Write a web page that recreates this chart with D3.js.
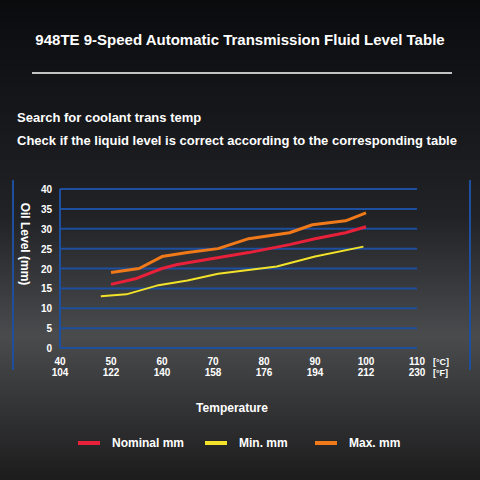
<!DOCTYPE html>
<html><head><meta charset="utf-8">
<script src="https://cdn.jsdelivr.net/npm/d3@7"></script>
<style>body{margin:0;background:#000}svg{display:block;font-family:"Liberation Sans",Arial,sans-serif}</style>
</head><body><svg id="c" width="480" height="480"></svg>
<script>
var celsiusTicks = [40, 50, 60, 70, 80, 90, 100, 110];
var fahrenheitTicks = ["104", "122", "140", "158", "176", "194", "212", "230"];
var yTicks = [0, 5, 10, 15, 20, 25, 30, 35, 40];
var nominal = [[50,16],[55,17.5],[60,20],[63,21],[70,22.5],[77,24],[85,26],[90,27.5],[96,29],[100,30.5]];
var minimum = [[48,13],[53,13.5],[59,15.7],[65,17],[71,18.7],[82.5,20.5],[90,23],[99.5,25.5]];
var maximum = [[50,19],[55.5,20],[60,23],[65,24],[71,25],[77,27.5],[85,29],[89.5,31],[96,32],[100,34]];
var legend = [["Nominal mm","#e8203a"],["Min. mm","#f2e22a"],["Max. mm","#f07a1a"]];

var svg = d3.select("#c");
var defs = svg.append("defs");
var g = defs.append("linearGradient").attr("id","bg").attr("x1",0).attr("y1",0).attr("x2",0).attr("y2",1);
g.append("stop").attr("offset","0").attr("stop-color","#0a0b0d");
g.append("stop").attr("offset","0.45").attr("stop-color","#202226");
g.append("stop").attr("offset","0.7").attr("stop-color","#4a4b4d");
g.append("stop").attr("offset","1").attr("stop-color","#1c1c1d");
svg.append("rect").attr("width",480).attr("height",480).attr("fill","url(#bg)");

svg.append("text").attr("x",240).attr("y",45).attr("text-anchor","middle").attr("fill","#fff")
  .attr("font-size",15).attr("font-weight","bold").text("948TE 9-Speed Automatic Transmission Fluid Level Table");
svg.append("line").attr("x1",32).attr("x2",452).attr("y1",73).attr("y2",73).attr("stroke","#fff").attr("stroke-width",1.5);
svg.append("text").attr("x",17).attr("y",122).attr("fill","#fff").attr("font-size",13).attr("font-weight","bold")
  .text("Search for coolant trans temp");
svg.append("text").attr("x",17).attr("y",145).attr("fill","#fff").attr("font-size",13).attr("font-weight","bold")
  .text("Check if the liquid level is correct according to the corresponding table");

var x = d3.scaleLinear().domain([40,110]).range([60,417]);
var y = d3.scaleLinear().domain([0,40]).range([348,189]);
var blue = "#1d4f9e";

[13,470].forEach(function(px){
  svg.append("line").attr("x1",px).attr("x2",px).attr("y1",180).attr("y2",370).attr("stroke",blue).attr("stroke-width",2);
});
svg.append("line").attr("x1",x(40)).attr("x2",x(40)).attr("y1",y(40)).attr("y2",y(0)).attr("stroke",blue).attr("stroke-width",2);
svg.selectAll("line.grid").data(yTicks).enter().append("line").attr("class","grid")
  .attr("x1",x(40)).attr("x2",x(110)).attr("y1",function(d){return y(d);}).attr("y2",function(d){return y(d);})
  .attr("stroke",blue).attr("stroke-width",2);
svg.selectAll("text.yt").data(yTicks).enter().append("text").attr("class","yt")
  .attr("x",52).attr("y",function(d){return y(d)+4;}).attr("text-anchor","end")
  .attr("fill","#fff").attr("font-size",10).attr("font-weight","bold").text(function(d){return d;});
svg.selectAll("text.xc").data(celsiusTicks).enter().append("text").attr("class","xc")
  .attr("x",function(d){return x(d);}).attr("y",365).attr("text-anchor","middle")
  .attr("fill","#fff").attr("font-size",10).attr("font-weight","bold").text(function(d){return d;});
svg.selectAll("text.xf").data(fahrenheitTicks).enter().append("text").attr("class","xf")
  .attr("x",function(d,i){return x(celsiusTicks[i]);}).attr("y",376).attr("text-anchor","middle")
  .attr("fill","#fff").attr("font-size",10).attr("font-weight","bold").text(function(d){return d;});
svg.append("text").attr("x",433).attr("y",365).attr("fill","#fff").attr("font-size",9).attr("font-weight","bold").text("[°C]");
svg.append("text").attr("x",433).attr("y",376).attr("fill","#fff").attr("font-size",9).attr("font-weight","bold").text("[°F]");

svg.append("text").attr("transform","translate(21,244) rotate(90)").attr("text-anchor","middle")
  .attr("fill","#fff").attr("font-size",12).attr("font-weight","bold").text("Oil Level (mm)");
svg.append("text").attr("x",232).attr("y",412).attr("text-anchor","middle")
  .attr("fill","#fff").attr("font-size",12).attr("font-weight","bold").text("Temperature");

var line = d3.line().x(function(d){return x(d[0]);}).y(function(d){return y(d[1]);});
[[minimum,"#f2e22a",2],[maximum,"#f07a1a",3],[nominal,"#e8203a",3]].forEach(function(s){
  svg.append("path").attr("d",line(s[0])).attr("fill","none").attr("stroke",s[1]).attr("stroke-width",s[2]).attr("stroke-linejoin","round");
});

var lx = [78,205,315];
legend.forEach(function(l,i){
  svg.append("line").attr("x1",lx[i]).attr("x2",lx[i]+22).attr("y1",443).attr("y2",443).attr("stroke",l[1]).attr("stroke-width",4);
  svg.append("text").attr("x",lx[i]+34).attr("y",447).attr("fill","#fff").attr("font-size",12).attr("font-weight","bold").text(l[0]);
});
</script></body></html>
